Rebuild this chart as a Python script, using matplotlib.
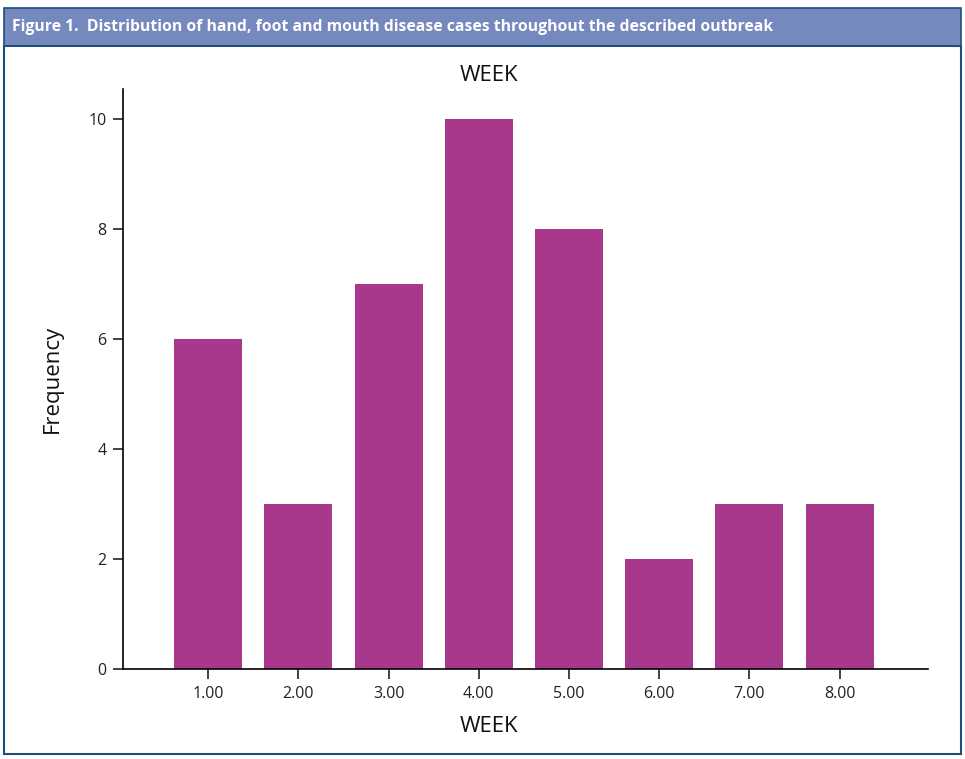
import matplotlib.pyplot as plt
from matplotlib.patches import Rectangle

weeks = [1, 2, 3, 4, 5, 6, 7, 8]
week_labels = ['1.00', '2.00', '3.00', '4.00', '5.00', '6.00', '7.00', '8.00']
frequency = [6, 3, 7, 10, 8, 2, 3, 3]

plt.rcParams['font.family'] = ['Open Sans', 'DejaVu Sans']

fig = plt.figure(figsize=(9.65, 7.59), dpi=100)
W, H = 965, 759

# frame + header band
border = '#1f4e79'
fig.patches.append(Rectangle((4 / W, 1 - 46 / H), 957 / W, 38 / H,
                             transform=fig.transFigure, facecolor='#7589bf',
                             edgecolor=border, linewidth=1.2, zorder=0))
fig.patches.append(Rectangle((4 / W, 1 - 754 / H), 957 / W, 708 / H,
                             transform=fig.transFigure, facecolor='none',
                             edgecolor=border, linewidth=1.5, zorder=0))
fig.text(12 / W, 1 - 27 / H,
         'Figure 1.  Distribution of hand, foot and mouth disease cases throughout the described outbreak',
         color='white', fontsize=11.3, fontweight='bold', va='center', ha='left',
         fontstretch='condensed')

ax = fig.add_axes([123 / W, 90 / H, 805 / W, 580 / H])
ax.bar(weeks, frequency, width=0.755, color='#a8388b')

ax.set_xlim(0.056, 8.98)
ax.set_ylim(0, 10.55)
ax.set_xticks(weeks)
ax.set_xticklabels(week_labels)
ax.set_yticks([0, 2, 4, 6, 8, 10])

for s in ['top', 'right']:
    ax.spines[s].set_visible(False)
ax.spines['left'].set_linewidth(1.2)
ax.spines['bottom'].set_linewidth(1.2)
ax.tick_params(axis='both', direction='out', length=7, width=1.2,
               labelsize=11.5, colors='#222222', pad=5)

# title / xlabel sit a bit left of the axes centre in the original
ax.set_title('WEEK', fontsize=16, pad=6, color='#111111', x=0.455)
ax.set_xlabel('WEEK', fontsize=16, labelpad=10, color='#111111', x=0.455)
ax.set_ylabel('Frequency', fontsize=16, labelpad=18, color='#111111')

plt.savefig('out.png', dpi=100)
